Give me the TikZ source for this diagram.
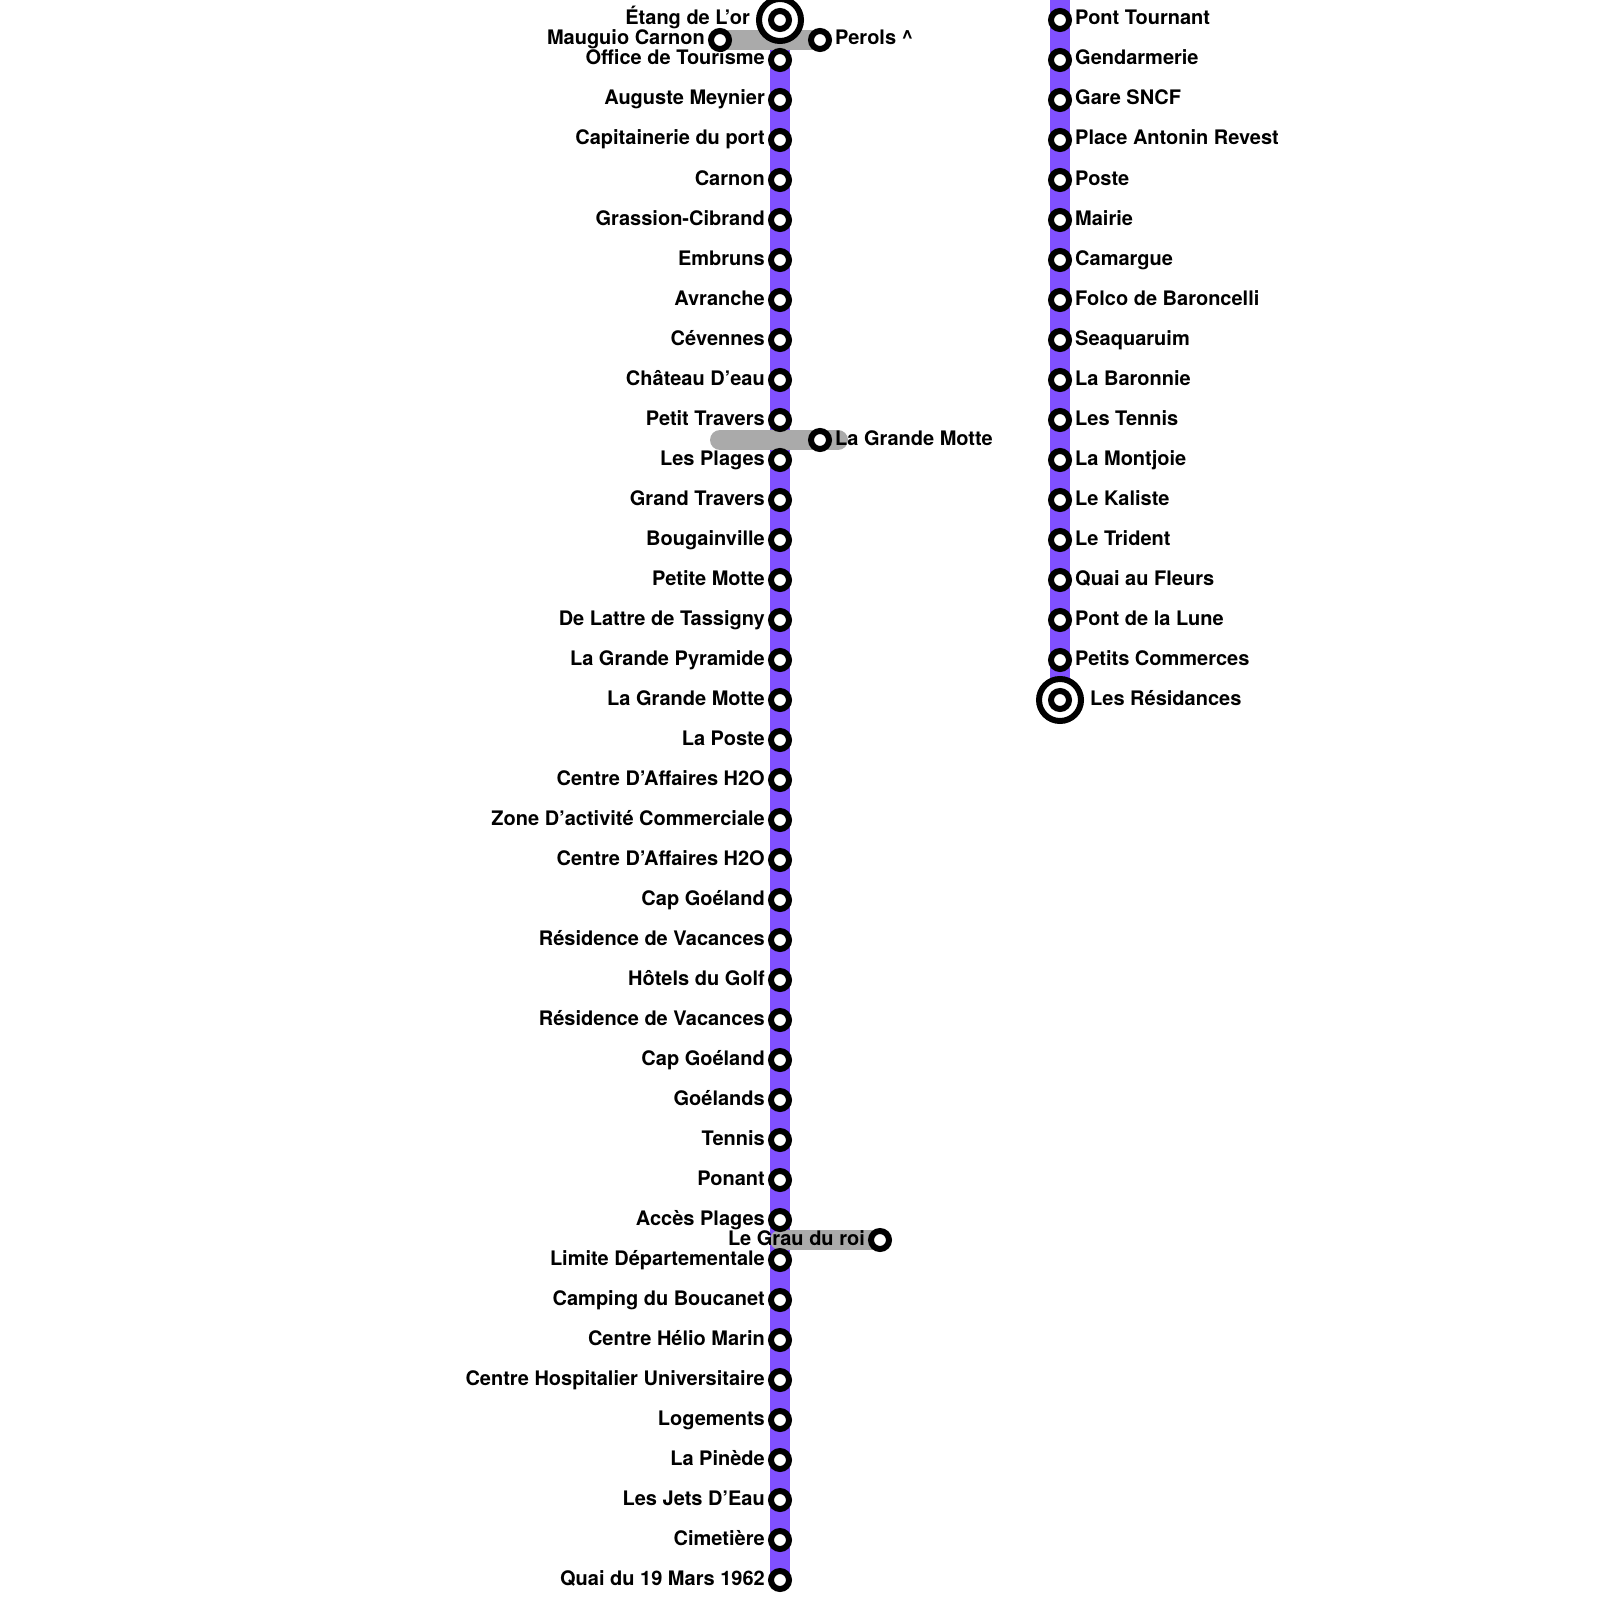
\documentclass[tikz,border=0pt]{standalone}
\usepackage{fontspec}
\setmainfont{TeX Gyre Heros}
\usetikzlibrary{backgrounds}
\definecolor{linepurple}{HTML}{8050FF}
\definecolor{linkgrey}{HTML}{AAAAAA}

\begin{document}
\begin{tikzpicture}[
  x=1pt, y=-1pt,
  stn/.style={draw, circle, fill=white, line width=6pt, minimum size=18pt, inner sep=0pt},
  term/.style={draw, circle, fill=white, line width=6pt, minimum size=42pt, inner sep=0pt},
  lbl/.style={font=\fontsize{20}{24}\selectfont\bfseries, inner sep=0pt, text=black},
  lblw/.style={lbl, anchor=base east},
  lble/.style={lbl, anchor=base west},
  metro/.style={linepurple, line width=20pt},
  link/.style={linkgrey, line width=20pt, line cap=round}]
  \useasboundingbox (0,0) rectangle (1600,1600);
  % first line
  \node[term] (etang) at (780,20) {};
  \node[stn] (etangin) at (etang) {};
  \node[lblw] (etanglbl) at (750,25) {Étang de L’or};
  \node[stn] (mauguio) at (720,40) {};
  \node[lblw] (mauguiolbl) at (705,45) {Mauguio Carnon};
  \node[stn] (perols) at (820,40) {};
  \node[lble] (perolslbl) at (835,45) {Perols \textasciicircum};
  \foreach \y/\name in {60/Office de Tourisme, 100/Auguste Meynier, 140/Capitainerie du port,
      180/Carnon, 220/Grassion-Cibrand, 260/Embruns, 300/Avranche, 340/Cévennes,
      380/Château D’eau, 420/Petit Travers, 460/Les Plages, 500/Grand Travers,
      540/Bougainville, 580/Petite Motte, 620/De Lattre de Tassigny, 660/La Grande Pyramide,
      700/La Grande Motte, 740/La Poste, 780/Centre D’Affaires H2O,
      820/Zone D’activité Commerciale, 860/Centre D’Affaires H2O, 900/Cap Goéland,
      940/Résidence de Vacances, 980/Hôtels du Golf, 1020/Résidence de Vacances,
      1060/Cap Goéland, 1100/Goélands, 1140/Tennis, 1180/Ponant, 1220/Accès Plages,
      1260/Limite Départementale, 1300/Camping du Boucanet, 1340/Centre Hélio Marin,
      1380/Centre Hospitalier Universitaire, 1420/Logements, 1460/La Pinède,
      1500/Les Jets D’Eau, 1540/Cimetière, 1580/Quai du 19 Mars 1962} {
    \node[stn] (s\y) at (780,\y) {};
    \node[lblw] (s\y lbl) at (765,\y+5) {\name};
  }
  % branch stops
  \node[stn] (motte) at (820,440) {};
  \node[lble] (mottelbl) at (835,445) {La Grande Motte};
  \coordinate (mottew) at (720,440);
  \coordinate (mottee) at (838,440);
  \node[stn] (grau) at (880,1240) {};
  \coordinate (grauw) at (780,1240);
  % second line
  \foreach \y/\name in {20/Pont Tournant, 60/Gendarmerie, 100/Gare SNCF, 140/Place Antonin Revest,
      180/Poste, 220/Mairie, 260/Camargue, 300/Folco de Baroncelli, 340/Seaquaruim,
      380/La Baronnie, 420/Les Tennis, 460/La Montjoie, 500/Le Kaliste, 540/Le Trident,
      580/Quai au Fleurs, 620/Pont de la Lune, 660/Petits Commerces} {
    \node[stn] (r\y) at (1060,\y) {};
    \node[lble] (r\y lbl) at (1075,\y+5) {\name};
  }
  \node[term] (residences) at (1060,700) {};
  \node[stn] (residencesin) at (residences) {};
  \node[lble] (residenceslbl) at (1090,705) {Les Résidances};
  \coordinate (rtop) at (1060,0);
  \begin{scope}[on background layer]
    \draw[metro] (etang.center) -- (s1580.center);
    \draw[metro] (rtop) -- (residences.center);
    \draw[link] (mauguio.center) -- (perols.center);
    \draw[link] (mottew) -- (mottee);
    \draw[link] (grauw) -- (grau.center);
  \end{scope}
  \node[lblw] (graulbl) at (865,1245) {Le Grau du roi};
\end{tikzpicture}
\end{document}
